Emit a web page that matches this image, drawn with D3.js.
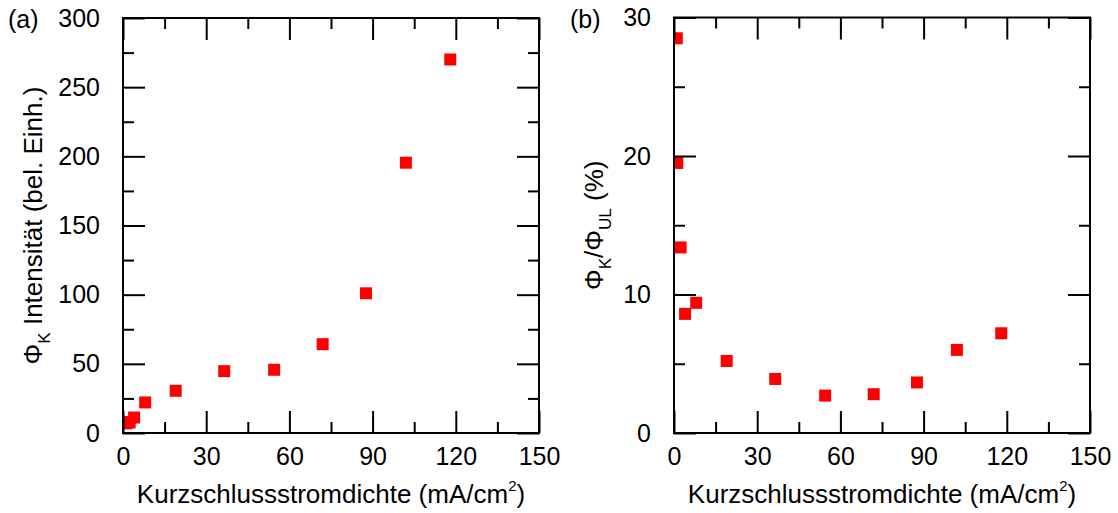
<!DOCTYPE html>
<html>
<head>
<meta charset="utf-8">
<script src="https://cdn.jsdelivr.net/npm/d3@7"></script>
<style>
body { margin: 0; background: #fff; }
text { font-family: "Liberation Sans", Arial, sans-serif; fill: #000; }
</style>
</head>
<body>
<script>
var width = 1118, height = 513;

// Kurzschlussstromdichte (mA/cm2)
var stromdichte = [1.0, 1.2, 2.4, 4.0, 8.0, 19.0, 36.5, 54.5, 72.0, 87.6, 102.0, 118.0];
// (a) Phi_K Intensitaet
var intensitaet = [8, 7, 7.6, 11.2, 22.1, 30.5, 44.7, 45.7, 64.2, 101, 195.4, 270];
// (b) Phi_K / Phi_UL in %
var verhaeltnis = [28.5, 19.5, 13.4, 8.6, 9.4, 5.2, 3.9, 2.7, 2.8, 3.65, 6.0, 7.2];

var xTicks = [0, 30, 60, 90, 120, 150],
  xMinor = [15, 45, 75, 105, 135];
var yTicksA = [0, 50, 100, 150, 200, 250, 300],
  yMinorA = [25, 75, 125, 175, 225, 275];
var yTicksB = [0, 10, 20, 30],
  yMinorB = [5, 15, 25];

var svg = d3.select("body").append("svg")
  .attr("width", width)
  .attr("height", height);

function panel(p) {
  var x = d3.scaleLinear().domain([0, 150]).range([p.left, p.right]);
  var y = d3.scaleLinear().domain(p.yDomain).range([p.bottom, p.top]);
  var g = svg.append("g");

  // clip for the markers
  g.append("clipPath").attr("id", p.id)
    .append("rect")
    .attr("x", p.left).attr("y", p.top)
    .attr("width", p.right - p.left).attr("height", p.bottom - p.top);

  g.append("g")
    .attr("clip-path", "url(#" + p.id + ")")
    .selectAll("rect")
    .data(stromdichte)
    .enter()
    .append("rect")
    .attr("x", function(d) { return x(d) - 6; })
    .attr("y", function(d, i) { return y(p.values[i]) - 6; })
    .attr("width", 12)
    .attr("height", 12)
    .attr("fill", "#ff0000");

  // axes: major + minor ticks on all four sides, pointing inwards
  function ax(axis, tr, vals, size, labels, pad) {
    var a = axis.tickValues(vals).tickSizeInner(-size).tickSizeOuter(0).tickPadding(pad || 0);
    if (!labels) a.tickFormat("");
    var s = g.append("g").attr("transform", tr).call(a);
    s.select(".domain").remove();
    s.selectAll("line").attr("stroke", "#000").attr("stroke-width", 2);
    s.selectAll("text").style("font-size", "25px").attr("fill", "#000");
    return s;
  }
  var bt = "translate(0," + p.bottom + ")", tt = "translate(0," + p.top + ")",
    lt = "translate(" + p.left + ",0)", rt = "translate(" + p.right + ",0)";

  ax(d3.axisBottom(x), bt, xTicks, 22, true, 14);
  ax(d3.axisBottom(x), bt, xMinor, 11);
  ax(d3.axisTop(x), tt, xTicks, 22);
  ax(d3.axisTop(x), tt, xMinor, 11);
  ax(d3.axisLeft(y), lt, p.yTicks, 22, true, 23);
  ax(d3.axisLeft(y), lt, p.yMinor, 11);
  ax(d3.axisRight(y), rt, p.yTicks, 22);
  ax(d3.axisRight(y), rt, p.yMinor, 11);

  g.append("rect")
    .attr("x", p.left).attr("y", p.top)
    .attr("width", p.right - p.left).attr("height", p.bottom - p.top)
    .attr("fill", "none").attr("stroke", "#000").attr("stroke-width", 2);

  // x title
  var xt = g.append("text")
    .attr("x", (p.left + p.right) / 2)
    .attr("y", 503)
    .attr("text-anchor", "middle")
    .style("font-size", "26px");
  xt.append("tspan").text("Kurzschlussstromdichte (mA/cm");
  xt.append("tspan").attr("dy", -12).style("font-size", "15px").text("2");
  xt.append("tspan").attr("dy", 12).text(")");

  // y title
  var yt = g.append("text")
    .attr("transform", "translate(" + p.titleX + "," + ((p.top + p.bottom) / 2) + ") rotate(-90)")
    .attr("text-anchor", "middle")
    .style("font-size", "26px");
  p.title(yt);

  // panel label
  g.append("text")
    .attr("x", p.labelX).attr("y", 28)
    .style("font-size", "25px")
    .text(p.label);
}

panel({
  id: "clipA", left: 123, right: 539, top: 18, bottom: 433,
  yDomain: [0, 300], yTicks: yTicksA, yMinor: yMinorA,
  values: intensitaet, titleX: 42, labelX: 8, label: "(a)",
  title: function(t) {
    t.append("tspan").text("\u03A6");
    t.append("tspan").attr("dy", 8).style("font-size", "17px").text("K");
    t.append("tspan").attr("dy", -8).text(" Intensit\u00E4t (bel. Einh.)");
  }
});

panel({
  id: "clipB", left: 674, right: 1090, top: 17.5, bottom: 433,
  yDomain: [0, 30], yTicks: yTicksB, yMinor: yMinorB,
  values: verhaeltnis, titleX: 603, labelX: 570, label: "(b)",
  title: function(t) {
    t.append("tspan").text("\u03A6");
    t.append("tspan").attr("dy", 8).style("font-size", "17px").text("K");
    t.append("tspan").attr("dy", -8).text("/\u03A6");
    t.append("tspan").attr("dy", 8).style("font-size", "17px").text("UL");
    t.append("tspan").attr("dy", -8).text(" (%)");
  }
});
</script>
</body>
</html>
